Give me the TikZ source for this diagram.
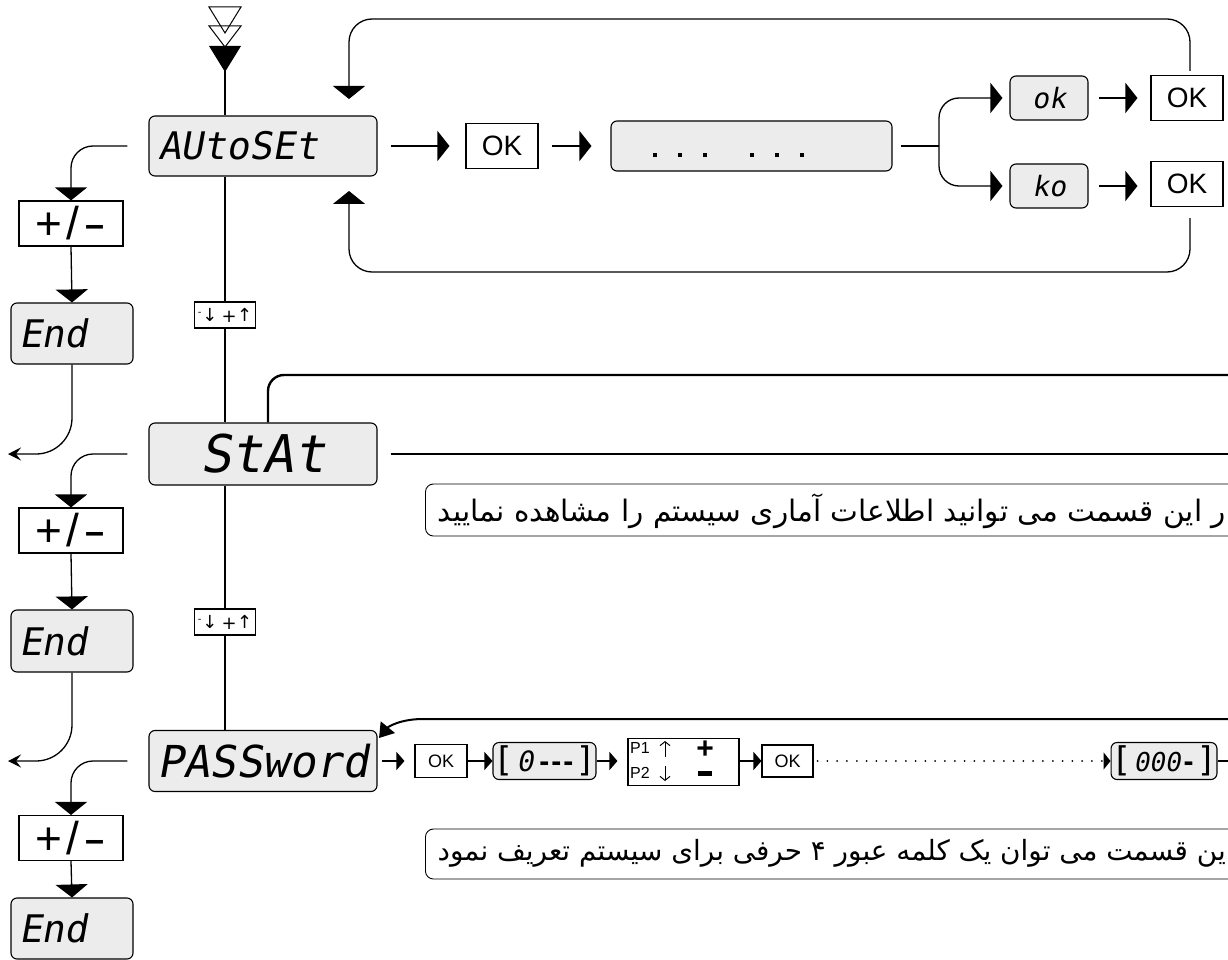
\documentclass[tikz,border=0pt]{standalone}
\usepackage{fontspec}
\usepackage{graphicx}
\setmainfont{Liberation Sans}
\newfontfamily\segfont[FakeSlant=0.18]{DejaVu Sans Mono}
\newfontfamily\segup{DejaVu Sans Mono}
\newfontfamily\arabicfont[Script=Arabic]{DejaVu Sans}
\newfontfamily\symfont{DejaVu Sans}
\TeXXeTstate=1
\usetikzlibrary{arrows.meta}
\definecolor{lcdgray}{HTML}{ECECEC}
\newcommand{\pmlabel}{+\kern4pt/\kern5pt\scalebox{1.5}[1]{-}}
\newcommand{\udlabel}{\raisebox{6pt}{\fontsize{10}{10}\selectfont -}\kern1pt↓\kern4pt\raisebox{-1pt}{+}\kern0.5pt↑}
\begin{document}
\begin{tikzpicture}[x=1pt,y=-1pt,
  conn/.style={line width=1.3pt},
  bigtip/.style={-{Triangle[length=13pt,width=32pt]}},
  midtip/.style={-{Triangle[length=12pt,width=30pt]}},
  smalltip/.style={-{Triangle[length=8pt,width=18pt]}},
  lefttip/.style={-{Stealth[length=13pt,width=13pt,inset=5pt]}},
  disp/.style={draw, line width=1.1pt, fill=lcdgray, rounded corners=6pt, inner sep=0pt},
  keybox/.style={draw, line width=1.1pt, fill=white, inner sep=0pt},
  notebox/.style={draw, line width=0.9pt, rounded corners=8pt, inner sep=0pt, anchor=west},
  seg/.style={font=\segfont\fontsize{#1}{#1}\selectfont},
  oktxt/.style={font=\fontsize{#1}{#1}\selectfont},
  pmtxt/.style={font=\fontsize{46}{46}\selectfont},
  udtxt/.style={font=\symfont\fontsize{18}{18}\selectfont},
]
\useasboundingbox (0,0) rectangle (1228,960);
\clip (0,0) rectangle (1228,960);

% entry symbol
\draw[line width=1pt] (209,7) -- (241,7) -- (225,33) -- cycle;
\draw[line width=1pt] (209,26) -- (241,26) -- (225,47) -- cycle;
\fill (209,46) -- (241,46) -- (225,72) -- cycle;
\coordinate (entry) at (225,70);

% ---------- displays on main axis
\node[disp, minimum width=228pt, minimum height=60pt, text width=210pt, align=left, seg=38] (auto) at (263,146) {AUtoSEt};
\node[disp, minimum width=228pt, minimum height=62pt, seg=52] (stat) at (263,454) {StAt};
\node[disp, minimum width=228pt, minimum height=61pt, text width=212pt, align=left, seg=44] (pass) at (263,761) {PASSword};

\node[keybox, minimum width=61pt, minimum height=26pt, udtxt] (ud1) at (225,315) {\udlabel};
\node[keybox, minimum width=61pt, minimum height=26pt, udtxt] (ud2) at (225,622) {\udlabel};

\draw[conn] (entry) -- (entry |- auto.north);
\draw[conn] (ud1.north |- auto.south) -- (ud1.north);
\draw[conn] (ud1.south) -- (ud1.south |- stat.north);
\draw[conn] (ud2.north |- stat.south) -- (ud2.north);
\draw[conn] (ud2.south) -- (ud2.south |- pass.north);

% ---------- left branches
\node[keybox, minimum width=104pt, minimum height=45pt, pmtxt] (pm1) at (71,223.5) {\pmlabel};
\node[keybox, minimum width=104pt, minimum height=45pt, pmtxt] (pm2) at (71,530.5) {\pmlabel};
\node[keybox, minimum width=104pt, minimum height=45pt, pmtxt] (pm3) at (71,838) {\pmlabel};
\node[disp, minimum width=122pt, minimum height=61pt, text width=106pt, align=left, seg=38] (end1) at (72,333.5) {End};
\node[disp, minimum width=122pt, minimum height=62pt, text width=106pt, align=left, seg=38] (end2) at (72,641) {End};
\node[disp, minimum width=122pt, minimum height=61pt, text width=106pt, align=left, seg=38] (end3) at (72,928.5) {End};

\draw[conn, bigtip, rounded corners=22pt] ([xshift=-21pt]auto.west) -| (pm1.north);
\draw[conn, bigtip, rounded corners=22pt] ([xshift=-21pt]stat.west) -| (pm2.north);
\draw[conn, bigtip, rounded corners=22pt] ([xshift=-21pt]pass.west) -| (pm3.north);
\draw[conn, bigtip] (pm1.south) -- (end1.north);
\draw[conn, bigtip] (pm2.south) -- (end2.north);
\draw[conn, bigtip] (pm3.south) -- (end3.north);
\coordinate (out1) at (8,454);
\coordinate (out2) at (8,761);
\draw[conn, lefttip, rounded corners=36pt] (end1.south) |- (out1);
\draw[conn, lefttip, rounded corners=36pt] (end2.south) |- (out2);

% ---------- AUTOSET row
\node[keybox, minimum width=72pt, minimum height=45pt, oktxt=28] (ok1) at (502,146) {OK};
\node[disp, minimum width=281pt, minimum height=50pt] (dots) at (751.5,146) {};
\foreach \x in {655,680,705,752,777,802} \fill (\x-1.8,153.5) rectangle (\x+1.8,157.1);
\draw[conn, midtip, shorten >=16pt] ([xshift=13pt]auto.east) -- (ok1.west);
\draw[conn, midtip, shorten >=19pt] ([xshift=13pt]ok1.east) -- (dots.west);

\node[disp, minimum width=78pt, minimum height=44pt, seg=28] (okd) at (1049,98) {ok};
\node[disp, minimum width=78pt, minimum height=44pt, seg=28] (kod) at (1049,186) {ko};
\node[keybox, minimum width=72pt, minimum height=45pt, oktxt=28] (OKa) at (1187,98) {OK};
\node[keybox, minimum width=72pt, minimum height=45pt, oktxt=28] (OKb) at (1187,184) {OK};
\coordinate (split) at (939,146);
\draw[conn] ([xshift=8pt]dots.east) -- (split);
\draw[conn, midtip, rounded corners=20pt] (split) |- ([xshift=-7pt]okd.west);
\draw[conn, midtip, rounded corners=20pt] (split) |- ([xshift=-7pt]kod.west);
\draw[conn, midtip, shorten >=13pt] ([xshift=10pt]okd.east) -- (OKa.west);
\draw[conn, midtip, shorten >=13pt] ([xshift=10pt]kod.east) -- (OKb.west |- kod.east);

\coordinate (topL) at (349,19);
\coordinate (tipT) at (349,99);
\coordinate (botL) at (349,272);
\coordinate (tipB) at (349,191);
\draw[conn, bigtip, rounded corners=23pt] ([xshift=3pt,yshift=4pt]OKa.north) |- (topL) -- (tipT);
\draw[conn, bigtip, rounded corners=23pt] ([xshift=3pt,yshift=-11pt]OKb.south) |- (botL) -- (tipB);

% ---------- STAT row
\coordinate (statR) at (1240,375);
\coordinate (statE) at (1240,454);
\draw[line width=2.4pt, rounded corners=16pt] ([xshift=5pt]stat.north) |- (statR);
\draw[conn] ([xshift=13pt]stat.east) -- (statE);
\node[notebox, minimum width=840pt, minimum height=52pt] (note1) at (425,510) {};
\node[anchor=east, inner sep=0pt] (txt1) at (1226,511) {\resizebox{788pt}{!}{\arabicfont\beginR ر این قسمت می توانید اطلاعات آماری سیستم را مشاهده نمایید\endR}};

% ---------- PASSWORD row
\node[keybox, minimum width=52pt, minimum height=33pt, oktxt=18] (ok3) at (441,761) {OK};
\node[disp, minimum width=103pt, minimum height=37pt] (box0) at (544.5,761) {{\segup\fontsize{34}{34}\selectfont[}\hspace{3pt}{\segfont\fontsize{28}{28}\selectfont 0}\hspace{6pt}{\bfseries\fontsize{30}{30}\selectfont -\kern2pt-\kern2pt-}\hspace{2pt}{\segup\fontsize{34}{34}\selectfont]}};
\node[keybox, minimum width=111pt, minimum height=47pt] (pp) at (683.5,762) {};
\node[keybox, minimum width=51pt, minimum height=32pt, oktxt=18] (ok4) at (787.5,761) {OK};
\node[disp, minimum width=102pt, minimum height=37pt] (box000) at (1164,761) {{\segup\fontsize{34}{34}\selectfont[}\hspace{2pt}{\segfont\fontsize{26}{26}\selectfont 000}\hspace{3pt}{\bfseries\fontsize{30}{30}\selectfont -}\hspace{3pt}{\segup\fontsize{34}{34}\selectfont]}};

\node[anchor=west, inner sep=0pt, font=\fontsize{16}{16}\selectfont] (p1) at (630,748) {P1};
\node[anchor=west, inner sep=0pt, font=\fontsize{16}{16}\selectfont] (p2) at (630,773) {P2};
\coordinate (upA) at (665,757); \coordinate (upB) at (665,741);
\coordinate (dnA) at (665,766); \coordinate (dnB) at (665,781);
\draw[line width=1pt, -{Straight Barb[length=4pt,width=10pt]}] (upA) -- (upB);
\draw[line width=1pt, -{Straight Barb[length=4pt,width=10pt]}] (dnA) -- (dnB);
\node[inner sep=0pt, font=\bfseries\fontsize{30}{30}\selectfont] (plus) at (705,750) {+};
\node[fill, minimum width=14pt, minimum height=5pt, inner sep=0pt] (minus) at (705,773) {};

\draw[conn, smalltip, shorten >=10pt] ([xshift=4pt]pass.east) -- (ok3.west);
\draw[conn, smalltip] (ok3.east) -- (box0.west);
\draw[conn, smalltip, shorten >=10pt] (box0.east) -- (pp.west |- box0.east);
\draw[conn, smalltip] (pp.east |- ok4.west) -- (ok4.west);
\draw[line width=2pt, line cap=round, dash pattern=on 0pt off 9.8pt, -{Triangle[length=7pt,width=17pt]}] ([xshift=4pt]ok4.east) -- (box000.west);
\coordinate (passE) at (1240,761);
\draw[conn] (box000.east) -- (passE);

\coordinate (loopR) at (1240,719);
\coordinate (loopL) at (423,719);
\coordinate (loopTip) at (379,738);
\draw[line width=2pt, -{Triangle[length=14pt,width=18pt]}] (loopR) -- (loopL) .. controls (400,719) and (388,727) .. (loopTip);

\node[notebox, minimum width=840pt, minimum height=50pt] (note2) at (425,854) {};
\node[anchor=east, inner sep=0pt] (txt2) at (1226,853) {\resizebox{788pt}{!}{\arabicfont\beginR ین قسمت  می توان یک کلمه عبور ۴ حرفی برای سیستم تعریف نمود\endR}};
\end{tikzpicture}
\end{document}
